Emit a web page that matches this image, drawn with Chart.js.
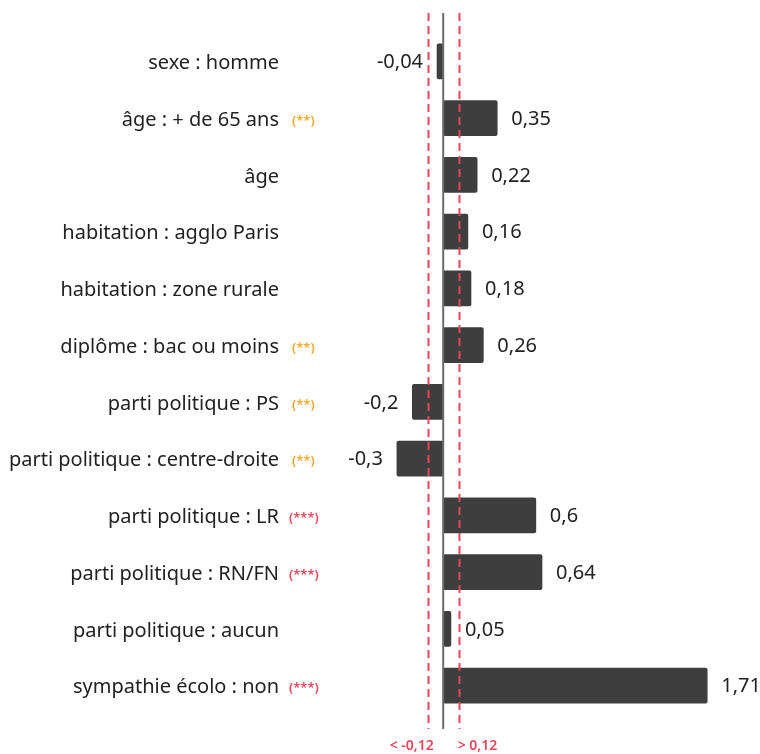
<!DOCTYPE html>
<html>
<head>
<meta charset="utf-8">
<script src="https://cdn.jsdelivr.net/npm/chart.js@4"></script>
<style>
  body { margin: 0; background: #fff; }
  canvas { display: block; }
</style>
</head>
<body>
<canvas id="coefChart" width="760" height="754"></canvas>
<script>
// Chart data
const categories = [
  'sexe : homme',
  'âge : + de 65 ans',
  'âge',
  'habitation : agglo Paris',
  'habitation : zone rurale',
  'diplôme : bac ou moins',
  'parti politique : PS',
  'parti politique : centre-droite',
  'parti politique : LR',
  'parti politique : RN/FN',
  'parti politique : aucun',
  'sympathie écolo : non'
];
const coefficients = [-0.04, 0.35, 0.22, 0.16, 0.18, 0.26, -0.2, -0.3, 0.6, 0.64, 0.05, 1.71];
const significance = ['', '(**)', '', '', '', '(**)', '(**)', '(**)', '(***)', '(***)', '', '(***)'];
const thresholdLines = [-0.1, 0.1];
const thresholdLabels = ['< -0,12', '> 0,12'];

const COLORS = {
  bar: '#3e3e3e',
  text: '#222222',
  zero: '#6b6b6b',
  red: '#e8455c',
  orange: '#f5a623',
};

const FONT = '"Noto Sans", "Open Sans", sans-serif';

// Helper: french decimal comma
function fmt(v) {
  return String(v).replace('.', ',');
}

// Draws labels, zero line and threshold lines
const overlayPlugin = {
  id: 'overlay',
  afterDatasetsDraw(chart) {
    const { ctx, scales } = chart;
    const x = scales.x;
    const meta = chart.getDatasetMeta(0);
    ctx.save();

    // zero line
    const x0 = x.getPixelForValue(0);
    ctx.strokeStyle = COLORS.zero;
    ctx.lineWidth = 2;
    ctx.beginPath();
    ctx.moveTo(x0, 13);
    ctx.lineTo(x0, 729);
    ctx.stroke();

    // dashed threshold lines
    ctx.strokeStyle = COLORS.red;
    ctx.setLineDash([8, 5]);
    thresholdLines.forEach(v => {
      const px = Math.round(x.getPixelForValue(v)) + 0.5;
      ctx.beginPath();
      ctx.moveTo(px, 13);
      ctx.lineTo(px, 729);
      ctx.stroke();
    });
    ctx.setLineDash([]);

    // threshold labels under the chart
    ctx.fillStyle = COLORS.red;
    ctx.font = '600 14px ' + FONT;
    ctx.textBaseline = 'middle';
    ctx.textAlign = 'right';
    ctx.fillText(thresholdLabels[0], x.getPixelForValue(thresholdLines[0]) + 6, 746);
    ctx.textAlign = 'left';
    ctx.fillText(thresholdLabels[1], x.getPixelForValue(thresholdLines[1]) - 1, 746);

    meta.data.forEach((bar, i) => {
      const y = bar.y;
      const v = coefficients[i];

      // category label
      ctx.fillStyle = COLORS.text;
      ctx.font = '20px ' + FONT;
      ctx.textAlign = 'right';
      ctx.fillText(categories[i], 279, y + 2);

      // significance marker
      if (significance[i]) {
        ctx.fillStyle = significance[i] === '(***)' ? COLORS.red : COLORS.orange;
        ctx.font = '600 13px ' + FONT;
        ctx.textAlign = 'left';
        ctx.fillText(significance[i], significance[i] === '(***)' ? 289 : 292, y + 3);
      }

      // value label
      ctx.fillStyle = COLORS.text;
      ctx.font = '20px ' + FONT;
      if (v < 0) {
        ctx.textAlign = 'right';
        ctx.fillText(fmt(v), bar.x - 14, y + 1);
      } else {
        ctx.textAlign = 'left';
        ctx.fillText(fmt(v), bar.x + 14, y + 1);
      }
    });

    ctx.restore();
  }
};

const ctx = document.getElementById('coefChart').getContext('2d');
new Chart(ctx, {
  type: 'bar',
  data: {
    labels: categories,
    datasets: [{
      data: coefficients,
      backgroundColor: COLORS.bar,
      borderRadius: 2,
      borderSkipped: false,
      barThickness: 35,
    }]
  },
  options: {
    indexAxis: 'y',  // horizontal bars
    responsive: false,
    animation: false,
    layout: {
      padding: { left: 366, right: 8, top: 33, bottom: 40 }
    },
    plugins: {
      legend: { display: false },
      tooltip: { enabled: false }
    },
    scales: {
      x: { display: false, min: -0.5, max: 2.0 },
      y: { display: false }
    }
  },
  plugins: [overlayPlugin]
});
</script>
</body>
</html>
